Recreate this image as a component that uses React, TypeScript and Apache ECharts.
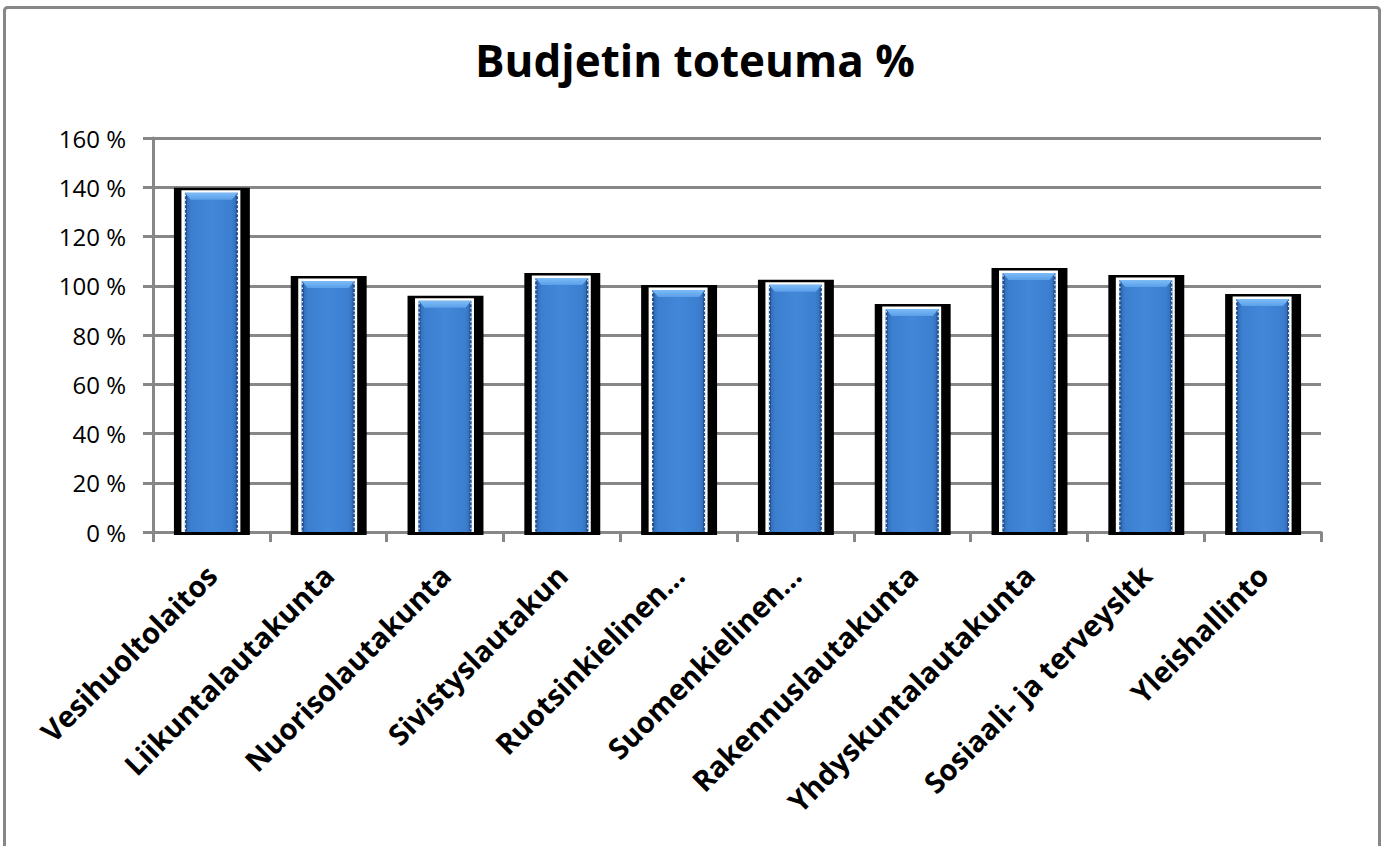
import React, { useEffect, useRef } from "react";
import * as echarts from "echarts";

const categories = [
  "Vesihuoltolaitos",
  "Liikuntalautakunta",
  "Nuorisolautakunta",
  "Sivistyslautakun",
  "Ruotsinkielinen…",
  "Suomenkielinen…",
  "Rakennuslautakunta",
  "Yhdyskuntalautakunta",
  "Sosiaali- ja terveysltk",
  "Yleishallinto",
];

const toteuma = [139.8, 104.0, 95.9, 105.2, 100.3, 102.4, 92.6, 107.2, 104.4, 96.6];

const yTicks = { min: 0, max: 160, interval: 20 };
const titleText = "Budjetin toteuma %";

export default function App() {
  const ref = useRef<HTMLDivElement>(null);

  useEffect(() => {
    if (!ref.current) return;
    const chart = echarts.init(ref.current, null, { renderer: "svg" });
    const gray = "#878787";

    const blueFill = new echarts.graphic.LinearGradient(0, 0, 1, 0, [
      { offset: 0, color: "#2f68b0" },
      { offset: 0.12, color: "#3c7fd0" },
      { offset: 0.5, color: "#4287d8" },
      { offset: 0.88, color: "#3c7fd0" },
      { offset: 1, color: "#2f68b0" },
    ]);

    const option: any = {
      animation: false,
      backgroundColor: "#ffffff",
      title: {
        text: titleText,
        left: 470,
        top: 33,
        textStyle: {
          fontFamily: "Open Sans",
          fontWeight: "bold",
          fontSize: 44,
          color: "#000",
        },
      },
      graphic: [
        {
          type: "rect",
          shape: { x: 4.5, y: 7.5, width: 1375, height: 860, r: 3 },
          style: { fill: "none", stroke: gray, lineWidth: 3 },
          silent: true,
        },
      ],
      grid: {
        left: 153,
        right: 65,
        top: 138,
        bottom: 314,
        containLabel: false,
        outerBoundsMode: "none",
      },
      xAxis: {
        type: "category",
        data: categories,
        boundaryGap: true,
        axisLine: { show: true, lineStyle: { color: gray, width: 3 } },
        axisTick: {
          show: true,
          alignWithLabel: false,
          length: 10,
          lineStyle: { color: gray, width: 3 },
        },
        axisLabel: {
          interval: 0,
          rotate: 45,
          margin: 38,
          fontFamily: "Open Sans",
          fontWeight: "bold",
          fontSize: 29,
          color: "#000",
        },
        splitLine: { show: false },
      },
      yAxis: {
        type: "value",
        min: yTicks.min,
        max: yTicks.max,
        interval: yTicks.interval,
        axisLine: { show: true, lineStyle: { color: gray, width: 3 } },
        axisTick: {
          show: true,
          length: 10,
          lineStyle: { color: gray, width: 3 },
        },
        axisLabel: {
          margin: 27,
          fontFamily: "Open Sans",
          fontSize: 24,
          color: "#000",
          formatter: (v: number) => `${Math.round(v)} %`,
        },
        splitLine: { show: true, lineStyle: { color: gray, width: 3 } },
      },
      series: [
        {
          type: "custom",
          name: "Budjetin toteuma",
          data: toteuma.map((v, i) => [i, v]),
          encode: { x: 0, y: 1 },
          renderItem: (params: any, api: any) => {
            const idx = api.value(0);
            const v = api.value(1);
            const top = api.coord([idx, v]);
            const base = api.coord([idx, 0]);
            const bw = api.size([1, 0])[0];
            const k = bw / 116.9;
            const cx = top[0];
            const ty = top[1];
            const by = base[1];
            const blueTop = ty + 5;
            const bl = cx - 26.5 * k;
            const br = cx + 26.5 * k;
            return {
              type: "group",
              children: [
                {
                  type: "rect",
                  shape: { x: cx - 37.5 * k, y: ty, width: 76 * k, height: by - ty + 3 },
                  style: { fill: "#000" },
                },
                {
                  type: "rect",
                  shape: { x: cx - 30 * k, y: ty + 2.5, width: 59 * k, height: by - ty - 2.5 },
                  style: { fill: "#fff" },
                },
                {
                  type: "rect",
                  shape: { x: bl, y: blueTop, width: br - bl, height: by - blueTop },
                  style: { fill: blueFill },
                },
                {
                  type: "polygon",
                  shape: {
                    points: [
                      [bl, blueTop],
                      [br, blueTop],
                      [br - 6 * k, blueTop + 7],
                      [bl + 6 * k, blueTop + 7],
                    ],
                  },
                  style: {
                    fill: new echarts.graphic.LinearGradient(0, 0, 0, 1, [
                      { offset: 0, color: "#7dbcf8" },
                      { offset: 1, color: "#5a9fe8" },
                    ]),
                  },
                },
                {
                  type: "line",
                  shape: { x1: bl + 1, y1: blueTop + 2, x2: bl + 1, y2: by - 1 },
                  style: { stroke: "#1f4f8f", lineWidth: 2 },
                },
                {
                  type: "line",
                  shape: { x1: bl + 0.5, y1: blueTop + 2, x2: bl + 0.5, y2: by - 1 },
                  style: { stroke: "#ffffff", lineWidth: 1.2, lineDash: [1.5, 3] },
                },
                {
                  type: "line",
                  shape: { x1: br - 1, y1: blueTop + 2, x2: br - 1, y2: by - 1 },
                  style: { stroke: "#1f4f8f", lineWidth: 2 },
                },
                {
                  type: "line",
                  shape: { x1: br - 0.5, y1: blueTop + 2, x2: br - 0.5, y2: by - 1 },
                  style: { stroke: "#ffffff", lineWidth: 1.2, lineDash: [1.5, 3] },
                },
              ],
            };
          },
          z: 3,
        },
      ],
    };

    chart.setOption(option);
    return () => chart.dispose();
  }, []);

  return (
    <div
      ref={ref}
      style={{ position: "fixed", left: 0, top: 0, width: 1386, height: 846, background: "#fff" }}
    />
  );
}
